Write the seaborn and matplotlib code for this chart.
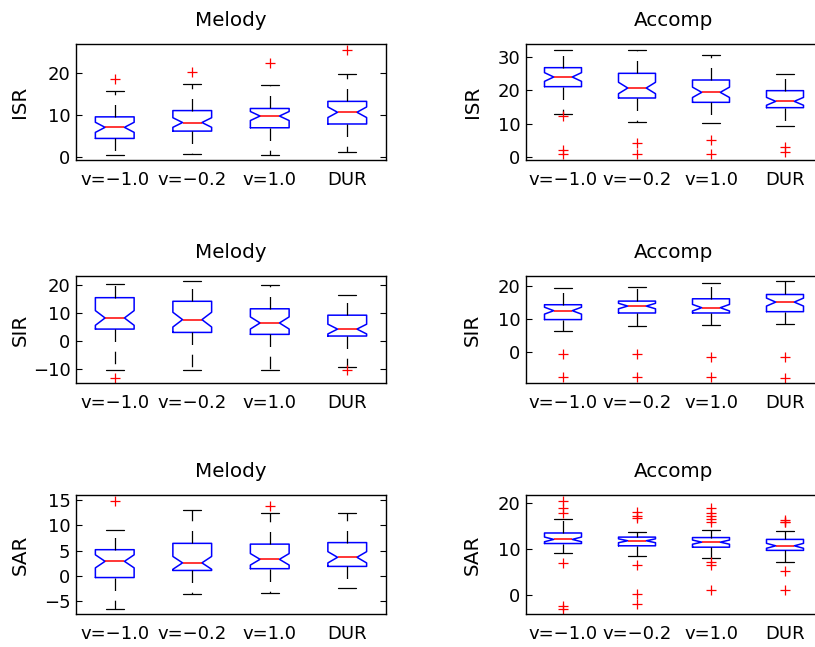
import numpy as np
import pandas as pd
import matplotlib
matplotlib.use("Agg")
import matplotlib.pyplot as plt
import seaborn as sns

# Separation conditions shown on every panel
conditions = ["v=\u22121.0", "v=\u22120.2", "v=1.0", "DUR"]

# Per condition: lower whisker, Q1, median, Q3, upper whisker (dB)
melody_isr_box = [[0.6, 4.45, 7.1, 9.6, 15.7], [0.8, 6.2, 8.25, 11.1, 17.4],
                  [0.5, 7.0, 9.8, 11.6, 17.1], [1.2, 7.9, 10.7, 13.3, 19.8]]
melody_isr_out = [[18.6], [20.3], [22.5], [25.6]]

accomp_isr_box = [[13.0, 21.1, 24.0, 26.8, 32.1], [10.4, 17.7, 20.7, 25.1, 32.1],
                  [10.1, 16.4, 19.4, 23.1, 30.6], [9.4, 14.8, 16.7, 19.9, 24.9]]
accomp_isr_out = [[12.3, 2.2, 0.8], [4.3, 0.9], [5.1, 0.9], [3.1, 1.6]]

melody_sir_box = [[-10.7, 4.2, 8.2, 15.5, 20.6], [-10.7, 3.0, 7.6, 14.2, 21.6],
                  [-10.7, 2.3, 6.4, 11.5, 20.0], [-9.3, 1.7, 4.2, 9.2, 16.6]]
melody_sir_out = [[-13.5], [], [], [-10.4]]

accomp_sir_box = [[6.3, 9.7, 12.4, 14.2, 19.2], [7.8, 11.7, 13.8, 15.3, 19.7],
                  [8.2, 11.7, 13.3, 16.0, 20.9], [8.3, 12.1, 15.0, 17.3, 21.5]]
accomp_sir_out = [[-0.8, -7.6], [-0.6, -7.6], [-1.7, -7.6], [-1.7, -8.1]]

melody_sar_box = [[-6.5, -0.3, 2.9, 5.2, 9.1], [-3.6, 1.1, 2.6, 6.45, 13.0],
                  [-3.45, 1.45, 3.3, 6.3, 12.4], [-2.4, 1.9, 3.7, 6.6, 12.4]]
melody_sar_out = [[14.8], [], [13.9], []]

accomp_sar_box = [[9.2, 11.2, 12.1, 13.5, 16.5], [8.4, 10.7, 11.8, 12.6, 13.7],
                  [8.1, 10.4, 11.5, 12.5, 14.1], [7.2, 9.7, 10.7, 12.1, 13.9]]
accomp_sar_out = [[20.5, 18.9, 17.8, 7.0, -2.4, -3.1],
                  [18.1, 17.3, 16.7, 6.4, 0.2, -2.1],
                  [18.9, 17.9, 17.2, 16.5, 15.8, 7.1, 6.5, 1.1],
                  [16.3, 16.0, 15.8, 5.3, 1.1]]

# Samples held at each quartile level when expanding a summary into a sample
QUARTILE_WEIGHT = 14


def expand(box, out):
    lo, q1, med, q3, hi = box
    return ([lo] + [q1] * QUARTILE_WEIGHT + [med] * QUARTILE_WEIGHT
            + [q3] * QUARTILE_WEIGHT + [hi] + list(out))


def frame(boxes, outs):
    rows = []
    for cond, box, out in zip(conditions, boxes, outs):
        for v in expand(box, out):
            rows.append((cond, v))
    return pd.DataFrame(rows, columns=["condition", "value"])


sns.set_theme(style="white")
plt.rcParams["font.family"] = ["DejaVu Sans"]
plt.rcParams["lines.scale_dashes"] = False
plt.rcParams["text.color"] = "black"
plt.rcParams["axes.labelcolor"] = "black"
plt.rcParams["axes.titlecolor"] = "black"

W, H = 815, 647
fig = plt.figure(figsize=(W / 100, H / 100), dpi=100)
fig.patch.set_facecolor("white")

cols = {"left": (76, 386), "right": (526, 822)}
rows = [(44, 160), (276, 383), (495, 614)]

panels = [
    (0, "left", "Melody", "ISR", melody_isr_box, melody_isr_out, (-0.7, 27.0), [0, 10, 20]),
    (0, "right", "Accomp", "ISR", accomp_isr_box, accomp_isr_out, (-0.9, 33.9), [0, 10, 20, 30]),
    (1, "left", "Melody", "SIR", melody_sir_box, melody_sir_out, (-15.2, 23.3), [-10, 0, 10, 20]),
    (1, "right", "Accomp", "SIR", accomp_sir_box, accomp_sir_out, (-9.5, 22.9), [0, 10, 20]),
    (2, "left", "Melody", "SAR", melody_sar_box, melody_sar_out, (-7.5, 16.0), [-5, 0, 5, 10, 15]),
    (2, "right", "Accomp", "SAR", accomp_sar_box, accomp_sar_out, (-4.2, 21.8), [0, 10, 20]),
]

for r, c, title, ylab, boxes, outs, ylim, yticks in panels:
    x0, x1 = cols[c]
    top, bot = rows[r]
    ax = fig.add_axes([x0 / W, 1 - bot / H, (x1 - x0) / W, (bot - top) / H])
    df = frame(boxes, outs)
    sns.boxplot(
        data=df, x="condition", y="value", order=conditions, ax=ax,
        notch=True, width=0.5, fill=False, linewidth=1.1, whis=1.5,
        boxprops=dict(color="blue"),
        medianprops=dict(color="red"),
        whiskerprops=dict(color="black", linestyle=(0, (9, 7)), linewidth=0.9),
        capprops=dict(color="black", linewidth=0.9),
        flierprops=dict(marker="+", markeredgecolor="red", markerfacecolor="none",
                        markersize=7.5, markeredgewidth=0.9),
        capwidths=0.23,
    )
    ax.set_xlim(-0.5, 3.5)
    ax.set_ylim(*ylim)
    ax.set_yticks(yticks)
    ax.set_xlabel("")
    ax.set_ylabel(ylab, fontsize=14.3, color="black")
    ax.yaxis.set_label_coords(-0.15, 0.5)
    ax.set_title(title, fontsize=14.3, pad=13.3, color="black")
    for s in ax.spines.values():
        s.set_visible(True)
        s.set_color("black")
        s.set_linewidth(1.0)
    ax.tick_params(axis="y", direction="in", length=4, width=0.8, left=True, right=True,
                   labelsize=13, pad=4, colors="black")
    ax.tick_params(axis="x", length=0, labelsize=13, pad=8, colors="black")
    ax.set_facecolor("white")

fig.savefig("out.png", dpi=100, facecolor="white")
